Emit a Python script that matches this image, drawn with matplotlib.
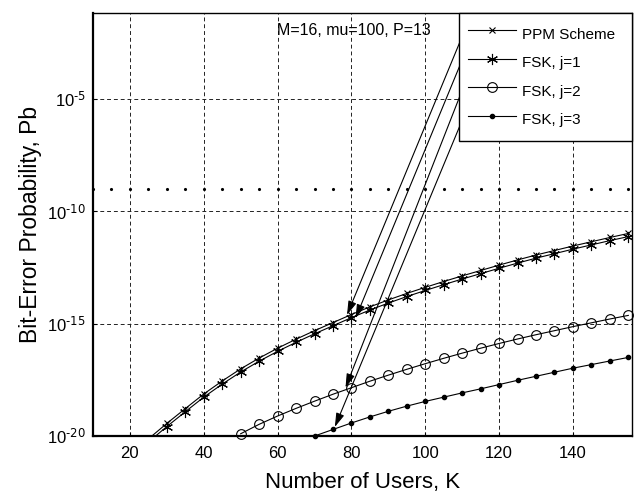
import numpy as np
import matplotlib
matplotlib.use("Agg")
import matplotlib.pyplot as plt
from matplotlib.ticker import FixedLocator, NullLocator, FuncFormatter

plt.rcParams['font.family'] = ['Liberation Sans', 'DejaVu Sans']
plt.rcParams['mathtext.default'] = 'regular'
plt.rcParams['axes.unicode_minus'] = False

# ---- data (log10 of bit-error probability) ----
users_a = [25, 30, 35, 40, 45, 50, 55, 60, 65, 70, 75, 80, 85, 90, 95, 100,
           105, 110, 115, 120, 125, 130, 135, 140, 145, 150, 155]
ppm_log10 = [-20.13, -19.44, -18.78, -18.13, -17.55, -17.01, -16.53, -16.09, -15.69,
             -15.31, -14.95, -14.59, -14.25, -13.94, -13.65, -13.38, -13.12, -12.87,
             -12.63, -12.39, -12.16, -11.94, -11.74, -11.54, -11.35, -11.16, -10.98]
fsk1_log10 = [-20.27, -19.58, -18.92, -18.27, -17.69, -17.15, -16.67, -16.23, -15.83,
              -15.45, -15.09, -14.73, -14.39, -14.08, -13.79, -13.52, -13.26, -13.01,
              -12.77, -12.53, -12.30, -12.08, -11.88, -11.68, -11.49, -11.30, -11.12]
users_j2 = [50, 55, 60, 65, 70, 75, 80, 85, 90, 95, 100, 105, 110, 115, 120, 125,
            130, 135, 140, 145, 150, 155]
fsk2_log10 = [-19.90, -19.48, -19.11, -18.77, -18.45, -18.14, -17.85, -17.56, -17.29,
              -17.03, -16.78, -16.54, -16.31, -16.09, -15.88, -15.68, -15.49, -15.31,
              -15.13, -14.96, -14.79, -14.63]
users_j3 = [70, 75, 80, 85, 90, 95, 100, 105, 110, 115, 120, 125, 130, 135, 140,
            145, 150, 155]
fsk3_log10 = [-20.00, -19.71, -19.42, -19.15, -18.90, -18.67, -18.46, -18.27, -18.08,
              -17.90, -17.71, -17.52, -17.34, -17.16, -16.98, -16.82, -16.66, -16.50]
users_thr = [10, 15, 20, 25, 30, 35, 40, 45, 50, 55, 60, 65, 70, 75, 80, 85, 90, 95,
             100, 105, 110, 115, 120, 125, 130, 135, 140, 145, 150, 155]
threshold_pb = 1e-9

labels = ['PPM Scheme', 'FSK, j=1', 'FSK, j=2', 'FSK, j=3']
x_ticks = [20, 40, 60, 80, 100, 120, 140]
y_ticks = [1e-20, 1e-15, 1e-10, 1e-5]

fig = plt.figure(figsize=(6.36, 4.92), dpi=100)
ax = fig.add_axes([93/636, 1-436/492, (632-93)/636, (436-12.7)/492])
ax.set_yscale('log')

lw = 0.8
h1, = ax.plot(users_a, 10**np.array(ppm_log10), color='k', lw=lw, marker='x',
              ms=5, mew=0.8, label=labels[0])
h2, = ax.plot(users_a, 10**np.array(fsk1_log10), color='k', lw=lw, marker=(6, 2, 0),
              ms=8, mew=0.8, label=labels[1])
h3, = ax.plot(users_j2, 10**np.array(fsk2_log10), color='k', lw=lw, marker='o',
              ms=7, mfc='none', mew=0.8, label=labels[2], clip_on=False)
h4, = ax.plot(users_j3, 10**np.array(fsk3_log10), color='k', lw=lw, marker='.',
              ms=6, label=labels[3], clip_on=False)
ax.plot(users_thr, [threshold_pb]*len(users_thr), linestyle='none', marker='.',
        ms=2.5, color='k', clip_on=False)

ax.set_xlim(10, 156)
ax.set_ylim(1e-20, 10**-1.15)
ax.xaxis.set_major_locator(FixedLocator(x_ticks))
ax.yaxis.set_major_locator(FixedLocator(y_ticks))
ax.yaxis.set_minor_locator(NullLocator())


def pow_fmt(v, pos):
    e = int(round(np.log10(v)))
    return r'$10^{\text{%d}}$' % e


ax.yaxis.set_major_formatter(FuncFormatter(pow_fmt))
ax.tick_params(axis='both', which='major', direction='in', length=3,
               labelsize=12, width=0.8)
ax.tick_params(axis='x', pad=7)
ax.tick_params(axis='y', pad=5)
ax.grid(True, which='major', color='#222222', linestyle=(0, (4, 3)), lw=0.7)

for s in ['left', 'bottom']:
    ax.spines[s].set_linewidth(1.6)
for s in ['top', 'right']:
    ax.spines[s].set_linewidth(1.0)

ax.set_xlabel('Number of Users, K', fontsize=16, labelpad=8)
ax.set_ylabel('Bit-Error Probability, Pb', fontsize=16.5, labelpad=4)

ax.text(0.3414, 0.9575, 'M=16, mu=100, P=13', transform=ax.transAxes,
        fontsize=11.5, ha='left', va='center')

leg = ax.legend(handles=[h1, h2, h3, h4], loc='upper right',
                bbox_to_anchor=(0.679, 0, 0.321, 1), mode='expand',
                borderaxespad=0, fontsize=11, handlelength=3.1,
                handletextpad=0.4, borderpad=0.6, labelspacing=0.255,
                handleheight=2.1,
                fancybox=False, framealpha=1, edgecolor='k')
leg.get_frame().set_linewidth(1.0)

# annotation arrows from the left end of each legend sample line to the curves
fig.canvas.draw()
renderer = fig.canvas.get_renderer()
inv = ax.transAxes.inverted()
starts = []
for hl in leg.legend_handles:
    bb = hl.get_window_extent(renderer)
    starts.append(tuple(inv.transform((bb.x0, 0.5 * (bb.y0 + bb.y1)))))

tips = [(78.8, 10**-14.61), (81.1, 10**-14.76), (78.4, 10**-17.85), (75.5, 10**-19.6)]
for st, tp in zip(starts, tips):
    ax.annotate('', xy=tp, xycoords='data', xytext=st, textcoords='axes fraction',
                arrowprops=dict(arrowstyle='-|>,head_length=0.6,head_width=0.18',
                                color='k', lw=0.8, shrinkA=0, shrinkB=0,
                                mutation_scale=14))

fig.savefig('out.png', dpi=100)
